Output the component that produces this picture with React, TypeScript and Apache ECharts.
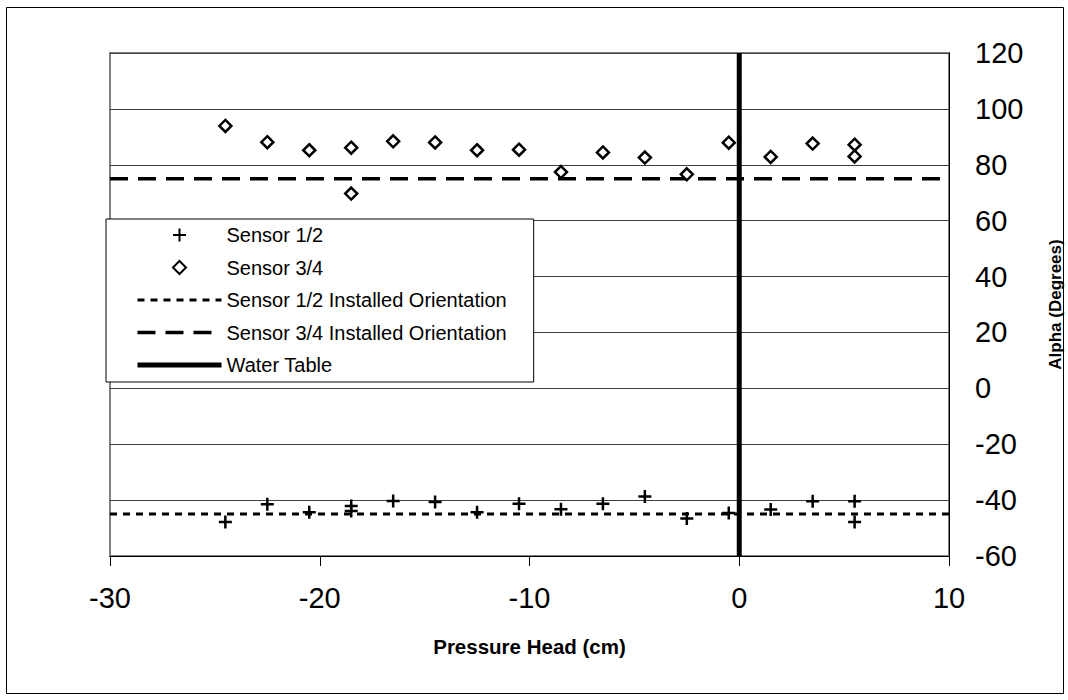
import React, { useEffect, useRef } from "react";
import * as echarts from "echarts";

const sensor12X = [-24.5, -22.5, -20.5, -18.5, -18.5, -16.5, -14.5, -12.5, -10.5, -8.5, -6.5, -4.5, -2.5, -0.5, 1.5, 3.5, 5.5, 5.5];
const sensor12Y = [-47.8, -41.5, -44.3, -42.1, -43.9, -40.3, -40.7, -44.3, -41.3, -43.3, -41.3, -38.7, -46.6, -44.6, -43.4, -40.4, -40.4, -47.8];
const sensor34X = [-24.5, -22.5, -20.5, -18.5, -18.5, -16.5, -14.5, -12.5, -10.5, -8.5, -6.5, -4.5, -2.5, -0.5, 1.5, 3.5, 5.5, 5.5];
const sensor34Y = [93.9, 88.1, 85.2, 86.1, 69.7, 88.4, 88.0, 85.2, 85.4, 77.4, 84.4, 82.6, 76.6, 87.9, 82.8, 87.6, 87.2, 83.0];
const installed12 = -45;
const installed34 = 75;
const waterTable = 0;
const xRange = [-30, 10];
const yRange = [-60, 120];

const seriesNames = [
  "Sensor 1/2",
  "Sensor 3/4",
  "Sensor 1/2 Installed Orientation",
  "Sensor 3/4 Installed Orientation",
  "Water Table",
];

const FONT = "'Liberation Sans', Arial, sans-serif";
const CROSS = "path://M0,6.5L13,6.5M6.5,0L6.5,13";
const DIAMOND = "path://M6.5,0L13,6.5L6.5,13L0,6.5Z";

export default function App() {
  const ref = useRef<HTMLDivElement>(null);
  useEffect(() => {
    if (!ref.current) return;
    const chart = echarts.init(ref.current, null, { renderer: "svg" });
    const zip = (xs: number[], ys: number[]) => xs.map((x, i) => [x, ys[i]]);
    const hiddenSymbol = { color: "rgba(0,0,0,0)", borderColor: "rgba(0,0,0,0)", borderWidth: 0, opacity: 0 };
    chart.setOption({
      animation: false,
      backgroundColor: "#fff",
      textStyle: { fontFamily: FONT },
      graphic: [
        {
          type: "rect",
          shape: { x: 6.5, y: 7.5, width: 1057, height: 686 },
          style: { fill: "none", stroke: "#000", lineWidth: 1 },
          z: -1,
          silent: true,
        },
      ],
      grid: {
        left: 110,
        top: 53,
        right: 119,
        bottom: 144,
        show: true,
        containLabel: false,
        outerBoundsMode: "none",
        backgroundColor: "#fff",
        borderColor: "#808080",
        borderWidth: 2,
      },
      legend: {
        orient: "vertical",
        left: 106,
        top: 219,
        padding: [6, 27, 7, 29],
        itemWidth: 84,
        itemHeight: 13,
        itemGap: 12.5,
        symbolKeepAspect: true,
        backgroundColor: "#fff",
        borderColor: "#000",
        borderWidth: 1,
        textStyle: { fontSize: 20, lineHeight: 20, color: "#000", fontFamily: FONT },
        data: [
          { name: seriesNames[0], itemStyle: { opacity: 1 } },
          { name: seriesNames[1], itemStyle: { opacity: 1 } },
          { name: seriesNames[2], itemStyle: hiddenSymbol, lineStyle: { width: 3, type: [7, 6], color: "#000" } },
          { name: seriesNames[3], itemStyle: hiddenSymbol, lineStyle: { width: 3.5, type: [18, 10], color: "#000" } },
          { name: seriesNames[4], itemStyle: hiddenSymbol, lineStyle: { width: 5, type: "solid", color: "#000" } },
        ],
      },
      xAxis: {
        type: "value",
        min: xRange[0],
        max: xRange[1],
        interval: 10,
        name: "Pressure Head (cm)",
        nameLocation: "middle",
        nameGap: 80,
        nameTextStyle: { fontSize: 20.5, fontWeight: "bold", color: "#000", fontFamily: FONT },
        axisLine: { show: true, onZero: false, lineStyle: { color: "#000", width: 1 } },
        axisTick: { show: true, inside: false, length: 10, lineStyle: { color: "#000" } },
        axisLabel: { fontSize: 29, color: "#000", margin: 27, fontFamily: FONT },
        splitLine: { show: false },
      },
      yAxis: {
        type: "value",
        position: "right",
        min: yRange[0],
        max: yRange[1],
        interval: 20,
        name: "Alpha (Degrees)",
        nameLocation: "middle",
        nameRotate: 90,
        nameGap: 98,
        nameTextStyle: { fontSize: 17, fontWeight: "bold", color: "#000", fontFamily: FONT },
        axisLine: { show: true, onZero: false, lineStyle: { color: "#000", width: 1 } },
        axisTick: { show: false },
        axisLabel: { fontSize: 29, color: "#000", margin: 26, fontFamily: FONT },
        splitLine: { show: true, lineStyle: { color: "#404040", width: 1 } },
      },
      series: [
        {
          name: seriesNames[0],
          type: "scatter",
          symbol: CROSS,
          symbolSize: 13,
          symbolKeepAspect: true,
          z: 4,
          itemStyle: { color: "rgba(0,0,0,0)", borderColor: "#000", borderWidth: 2.5, opacity: 1 },
          data: zip(sensor12X, sensor12Y),
        },
        {
          name: seriesNames[1],
          type: "scatter",
          symbol: DIAMOND,
          symbolSize: 12,
          symbolKeepAspect: true,
          z: 4,
          itemStyle: { color: "#fff", borderColor: "#000", borderWidth: 2.5, opacity: 1 },
          data: zip(sensor34X, sensor34Y),
        },
        {
          name: seriesNames[2],
          type: "line",
          symbol: "none",
          z: 2,
          lineStyle: { color: "#000", width: 3, type: [7, 6] },
          data: [
            [xRange[0], installed12],
            [xRange[1], installed12],
          ],
        },
        {
          name: seriesNames[3],
          type: "line",
          symbol: "none",
          z: 2,
          lineStyle: { color: "#000", width: 3.5, type: [18, 10] },
          data: [
            [xRange[0], installed34],
            [xRange[1], installed34],
          ],
        },
        {
          name: seriesNames[4],
          type: "line",
          symbol: "none",
          z: 3,
          lineStyle: { color: "#000", width: 5, type: "solid" },
          data: [
            [waterTable, yRange[0]],
            [waterTable, yRange[1]],
          ],
        },
      ],
    });
    return () => chart.dispose();
  }, []);
  return (
    <div
      ref={ref}
      style={{ position: "fixed", left: 0, top: 0, width: 1068, height: 700 }}
    />
  );
}
